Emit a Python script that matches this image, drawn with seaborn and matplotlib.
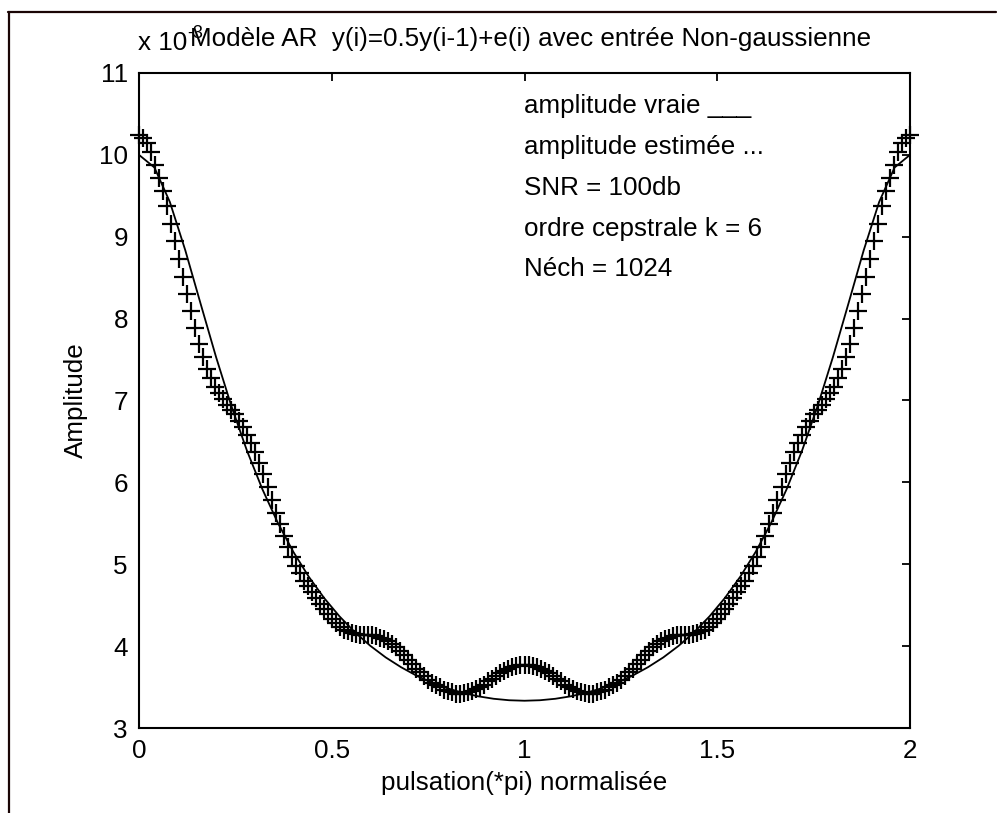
import numpy as np
import pandas as pd
import matplotlib
matplotlib.use("Agg")
import matplotlib.pyplot as plt
from matplotlib.lines import Line2D
import seaborn as sns

# Normalised pulsation grid (units of pi) for the true spectrum
freq_true = [0.00, 0.04, 0.08, 0.12, 0.16, 0.20, 0.24, 0.28, 0.32, 0.36,
             0.40, 0.44, 0.48, 0.52, 0.56, 0.60, 0.64, 0.68, 0.72, 0.76,
             0.80, 0.84, 0.88, 0.92, 0.96, 1.00, 1.04, 1.08, 1.12, 1.16,
             1.20, 1.24, 1.28, 1.32, 1.36, 1.40, 1.44, 1.48, 1.52, 1.56,
             1.60, 1.64, 1.68, 1.72, 1.76, 1.80, 1.84, 1.88, 1.92, 1.96, 2.00]

# True amplitude (x 10^-3)
amp_true = [10.000, 9.846, 9.425, 8.836, 8.179, 7.529, 6.927, 6.388, 5.917, 5.507,
            5.154, 4.850, 4.589, 4.364, 4.170, 4.004, 3.862, 3.742, 3.639, 3.554,
            3.485, 3.429, 3.387, 3.357, 3.339, 3.333, 3.339, 3.357, 3.387, 3.429,
            3.485, 3.554, 3.639, 3.742, 3.862, 4.004, 4.170, 4.364, 4.589, 4.850,
            5.154, 5.507, 5.917, 6.388, 6.927, 7.529, 8.179, 8.836, 9.425, 9.846, 10.000]

# Estimated amplitude (x 10^-3), 193 frequency bins over [0, 2]
amp_est = [
    10.24, 10.21, 10.14, 10.03, 9.88, 9.72, 9.56, 9.37, 9.16, 8.95,
    8.73, 8.51, 8.30, 8.09, 7.88, 7.69, 7.53, 7.39, 7.27, 7.17,
    7.09, 7.02, 6.95, 6.89, 6.83, 6.75, 6.68, 6.58, 6.48, 6.37,
    6.24, 6.10, 5.94, 5.79, 5.63, 5.49, 5.34, 5.21, 5.09, 4.98,
    4.89, 4.80, 4.73, 4.66, 4.59, 4.52, 4.45, 4.39, 4.33, 4.28,
    4.23, 4.20, 4.18, 4.16, 4.15, 4.14, 4.14, 4.14, 4.13, 4.12,
    4.10, 4.09, 4.06, 4.03, 3.99, 3.94, 3.89, 3.83, 3.78, 3.72,
    3.68, 3.64, 3.59, 3.55, 3.52, 3.50, 3.47, 3.45, 3.44, 3.42,
    3.42, 3.43, 3.44, 3.45, 3.48, 3.50, 3.53, 3.57, 3.60, 3.63,
    3.67, 3.70, 3.72, 3.74, 3.76, 3.77, 3.77,
    3.77, 3.76, 3.74, 3.72, 3.70, 3.67, 3.63, 3.60, 3.57, 3.53,
    3.50, 3.48, 3.45, 3.44, 3.43, 3.42, 3.42, 3.44, 3.45, 3.47,
    3.50, 3.52, 3.55, 3.59, 3.64, 3.68, 3.72, 3.78, 3.83, 3.89,
    3.94, 3.99, 4.03, 4.06, 4.09, 4.10, 4.12, 4.13, 4.14, 4.14,
    4.14, 4.15, 4.16, 4.18, 4.20, 4.23, 4.28, 4.33, 4.39, 4.45,
    4.52, 4.59, 4.66, 4.73, 4.80, 4.89, 4.98, 5.09, 5.21, 5.34,
    5.49, 5.63, 5.79, 5.94, 6.10, 6.24, 6.37, 6.48, 6.58, 6.68,
    6.75, 6.83, 6.89, 6.95, 7.02, 7.09, 7.17, 7.27, 7.39, 7.53,
    7.69, 7.88, 8.09, 8.30, 8.51, 8.73, 8.95, 9.16, 9.37, 9.56,
    9.72, 9.88, 10.03, 10.14, 10.21, 10.24,
]
freq_est = np.linspace(0.0, 2.0, len(amp_est))

x_ticks = [0, 0.5, 1, 1.5, 2]
x_tick_labels = ["0", "0.5", "1", "1.5", "2"]
y_ticks = [3, 4, 5, 6, 7, 8, 9, 10, 11]
y_tick_labels = ["3", "4", "5", "6", "7", "8", "9", "10", "11"]

info_lines = ["amplitude vraie ___",
              "amplitude estimée ...",
              "SNR = 100db",
              "ordre cepstrale k = 6",
              "Néch = 1024"]
info_y = [10.6, 10.1, 9.6, 9.1, 8.6]

title_text = "Modèle AR  y(i)=0.5y(i-1)+e(i) avec entrée Non-gaussienne"

sns.set_theme(style="white")
plt.rcParams["font.family"] = ["Liberation Sans", "DejaVu Sans"]
plt.rcParams["text.color"] = "black"
plt.rcParams["axes.labelcolor"] = "black"
FS = 18.7

W, H = 997, 813
fig = plt.figure(figsize=(W / 100, H / 100), dpi=100)
fig.patch.set_facecolor("white")

# Outer frame (top and left edges)
frame_col = "#1a0505"
fig.add_artist(Line2D([8 / W, 996 / W], [1 - 12.5 / H, 1 - 12.5 / H],
                      transform=fig.transFigure, color=frame_col, lw=1.6))
fig.add_artist(Line2D([8.5 / W, 8.5 / W], [0, 1 - 12.5 / H],
                      transform=fig.transFigure, color=frame_col, lw=1.6))

ax = fig.add_axes([139 / W, 1 - 728 / H, (910 - 139) / W, (728 - 73) / H])
ax.set_facecolor("white")

df_true = pd.DataFrame({"f": freq_true, "a": amp_true})
df_est = pd.DataFrame({"f": freq_est, "a": amp_est})

sns.lineplot(data=df_true, x="f", y="a", ax=ax, color="black", lw=1.3,
             errorbar=None, estimator=None)
sns.scatterplot(data=df_est, x="f", y="a", ax=ax, color="black",
                marker="+", s=170, linewidth=1.6, clip_on=False, zorder=3)

ax.set_xlim(0, 2)
ax.set_ylim(3, 11)
ax.set_xticks(x_ticks)
ax.set_xticklabels(x_tick_labels)
ax.set_yticks(y_ticks)
ax.set_yticklabels(y_tick_labels)
ax.tick_params(direction="in", length=6, width=1.3, top=True, right=True,
               labelsize=FS, colors="black", pad=8)
for sp in ax.spines.values():
    sp.set_visible(True)
    sp.set_color("black")
    sp.set_linewidth(1.5)

ax.set_xlabel("pulsation(*pi) normalisée", fontsize=FS, labelpad=6, color="black")
ax.set_ylabel("Amplitude", fontsize=FS, labelpad=8, color="black")

for txt, yy in zip(info_lines, info_y):
    ax.text(1.0, yy, txt, fontsize=FS, ha="left", va="center", color="black")

# Exponent of the y axis and the title
fig.text(138 / W, 1 - 43 / H, "x 10", fontsize=FS, ha="left", va="center")
fig.text(187 / W, 1 - 34 / H, "-3", fontsize=13, ha="left", va="center")
fig.text(531 / W, 1 - 39 / H, title_text, fontsize=FS, ha="center", va="center")

fig.savefig("out.png", dpi=100, facecolor="white")
